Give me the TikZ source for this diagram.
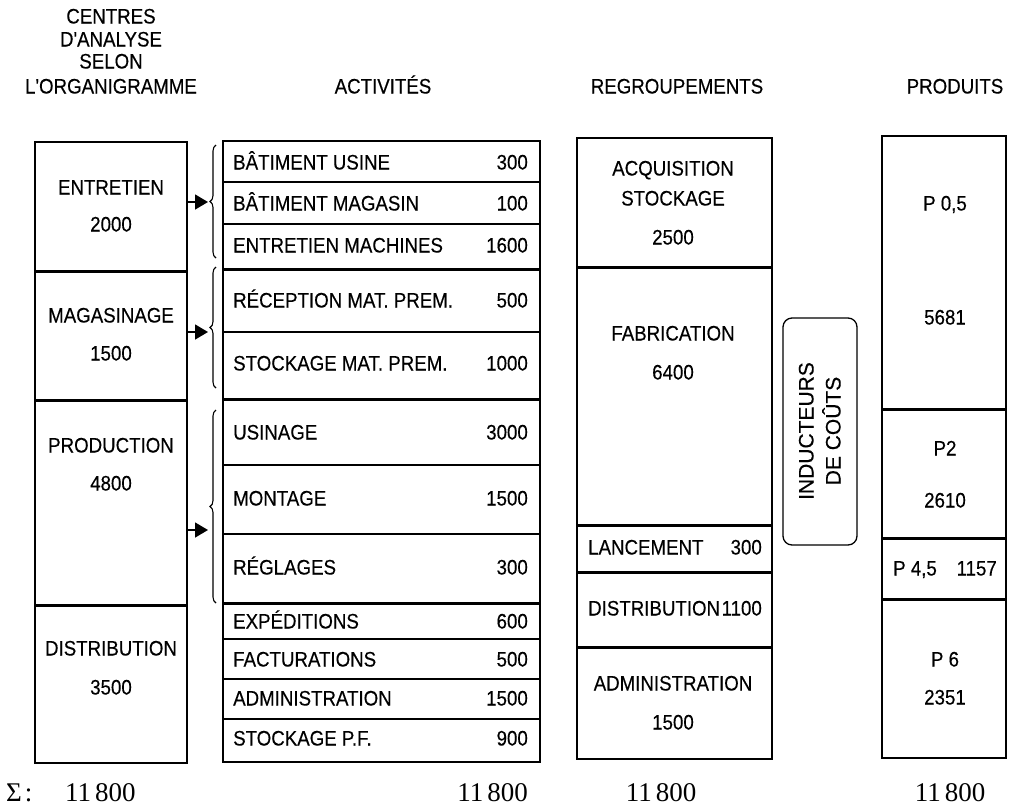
\documentclass[tikz,border=0pt]{standalone}
\usepackage{fontspec}
\usetikzlibrary{arrows.meta,decorations.pathreplacing}
\newfontfamily\hv{Liberation Sans}[FakeStretch=0.89,FakeBold=0.3]
\newfontfamily\hvw{Liberation Sans}[FakeBold=0.3]
\newfontfamily\tms{Liberation Serif}
\newcommand{\cellbox}[5]{%
  \pgfmathsetmacro\cbw{#4-#2}\pgfmathsetmacro\cbh{#5-#3}%
  \node[cell, minimum width=\cbw pt, minimum height=\cbh pt] (#1) at ({(#2+#4)/2},{(#3+#5)/2}) {};}
\begin{document}
\begin{tikzpicture}[x=1pt,y=-1pt,
  cell/.style={draw, line width=1.3pt, inner sep=0pt},
  t/.style={font=\hv\fontsize{21}{25}\selectfont, inner sep=0pt, text height=15pt, text depth=0pt},
  tw/.style={font=\hvw\fontsize{21}{25}\selectfont, inner sep=0pt, text height=15pt, text depth=0pt},
  sig/.style={font=\tms\fontsize{27}{30}\selectfont, inner sep=0pt, anchor=base},
  thickdiv/.style={line width=2.3pt},
  arr/.style={line width=1.5pt, -{Triangle[length=13pt,width=15pt]}},
  brc/.style={line width=1.1pt, decorate, decoration={brace, amplitude=6pt}}]
\useasboundingbox (0,0) rectangle (1009,809);

% headers
\node[t] (h1) at (111,16) {CENTRES};
\node[t] (h2) at (111,39) {D'ANALYSE};
\node[t] (h3) at (111,61) {SELON};
\node[t] (h4) at (111,86) {L'ORGANIGRAMME};
\node[t] (h5) at (383,86) {ACTIVITÉS};
\node[t] (h6) at (677,86) {REGROUPEMENTS};
\node[t] (h7) at (955,86) {PRODUITS};

% left column
\cellbox{ent}{35}{142}{187}{271}
\cellbox{mag}{35}{271}{187}{400}
\cellbox{pro}{35}{400}{187}{605}
\cellbox{dis}{35}{605}{187}{763}
\draw[thickdiv] (ent.south west) -- (ent.south east);
\draw[thickdiv] (mag.south west) -- (mag.south east);
\draw[thickdiv] (pro.south west) -- (pro.south east);
\node[t] (ent1) at (111,187) {ENTRETIEN};
\node[t] (ent2) at (111,224) {2000};
\node[t] (mag1) at (111,315) {MAGASINAGE};
\node[t] (mag2) at (111,353) {1500};
\node[t] (pro1) at (111,445) {PRODUCTION};
\node[t] (pro2) at (111,483) {4800};
\node[t] (dis1) at (111,648) {DISTRIBUTION};
\node[t] (dis2) at (111,687) {3500};

% activities
\cellbox{a1}{223}{141}{540}{182}
\cellbox{a2}{223}{182}{540}{224}
\cellbox{a3}{223}{224}{540}{269}
\cellbox{a4}{223}{269}{540}{332}
\cellbox{a5}{223}{332}{540}{399}
\cellbox{a6}{223}{399}{540}{465}
\cellbox{a7}{223}{465}{540}{534}
\cellbox{a8}{223}{534}{540}{603}
\cellbox{a9}{223}{603}{540}{639}
\cellbox{a10}{223}{639}{540}{679}
\cellbox{a11}{223}{679}{540}{719}
\cellbox{a12}{223}{719}{540}{762}
\draw[thickdiv] (a3.south west) -- (a3.south east);
\draw[thickdiv] (a5.south west) -- (a5.south east);
\draw[thickdiv] (a8.south west) -- (a8.south east);
\foreach \n/\y/\lab/\val in {a1/162/BÂTIMENT USINE/300, a2/203/BÂTIMENT MAGASIN/100,
  a3/245/ENTRETIEN MACHINES/1600, a4/300/RÉCEPTION MAT. PREM./500,
  a5/363/STOCKAGE MAT. PREM./1000, a6/432/USINAGE/3000, a7/498/MONTAGE/1500,
  a8/567/RÉGLAGES/300, a9/621/EXPÉDITIONS/600, a10/659/FACTURATIONS/500,
  a11/698/ADMINISTRATION/1500, a12/738/STOCKAGE P.F./900}{
  \node[t, anchor=west] (\n l) at (233,\y) {\lab};
  \node[t, anchor=east] (\n v) at (528,\y) {\val};
}

% braces and arrows
\coordinate (b1t) at (216,145); \coordinate (b1b) at (216,258);
\coordinate (b2t) at (216,267); \coordinate (b2b) at (216,388);
\coordinate (b3t) at (216,410); \coordinate (b3b) at (216,603);
\draw[brc] (b1b) -- (b1t);
\draw[brc] (b2b) -- (b2t);
\draw[brc] (b3b) -- (b3t);
\coordinate (e1) at (208,202);
\coordinate (e2) at (208,332);
\coordinate (e3) at (208,530);
\draw[arr] (ent.east |- e1) -- (e1);
\draw[arr] (mag.east |- e2) -- (e2);
\draw[arr] (pro.east |- e3) -- (e3);

% regroupements
\cellbox{r1}{577}{138}{772}{267}
\cellbox{r2}{577}{267}{772}{525}
\cellbox{r3}{577}{525}{772}{572}
\cellbox{r4}{577}{572}{772}{647}
\cellbox{r5}{577}{647}{772}{759}
\draw[thickdiv] (r1.south west) -- (r1.south east);
\draw[line width=1.8pt] (r2.south west) -- (r2.south east);
\draw[line width=1.8pt] (r3.south west) -- (r3.south east);
\draw[line width=1.8pt] (r4.south west) -- (r4.south east);
\node[t] (r1a) at (673,168) {ACQUISITION};
\node[t] (r1b) at (673,198) {STOCKAGE};
\node[t] (r1c) at (673,237) {2500};
\node[t] (r2a) at (673,333) {FABRICATION};
\node[t] (r2b) at (673,372) {6400};
\node[t, anchor=west] (r3a) at (588,547) {LANCEMENT};
\node[t, anchor=east] (r3b) at (762,547) {300};
\node[t, anchor=west] (r4a) at (588,608) {DISTRIBUTION};
\node[t, anchor=east] (r4b) at (762,608) {1100};
\node[t] (r5a) at (673,683) {ADMINISTRATION};
\node[t] (r5b) at (673,722) {1500};

% inducteurs
\node[draw, line width=1.3pt, rounded corners=9pt, minimum width=74pt, minimum height=227pt, inner sep=0pt] (ind) at (820,431.5) {};
\node[tw, rotate=90] (ind1) at (806,431) {INDUCTEURS};
\node[tw, rotate=90] (ind2) at (833,431) {DE COÛTS};

% produits
\cellbox{p1}{882}{136}{1006}{409}
\cellbox{p2}{882}{409}{1006}{538}
\cellbox{p3}{882}{538}{1006}{599}
\cellbox{p4}{882}{599}{1006}{758}
\draw[thickdiv] (p1.south west) -- (p1.south east);
\draw[thickdiv] (p2.south west) -- (p2.south east);
\draw[thickdiv] (p3.south west) -- (p3.south east);
\node[t] (p1a) at (945,203) {P 0,5};
\node[t] (p1b) at (945,317) {5681};
\node[t] (p2a) at (945,448) {P2};
\node[t] (p2b) at (945,500) {2610};
\node[t, anchor=west] (p3a) at (893,568) {P 4,5};
\node[t, anchor=east] (p3b) at (997,568) {1157};
\node[t] (p4a) at (945,659) {P 6};
\node[t] (p4b) at (945,697) {2351};

% sums
\node[sig, anchor=base west] (s0) at (6,801) {Σ\kern3pt:};
\node[sig, anchor=base west] (s1) at (65,801) {11\kern4pt800};
\node[sig, anchor=base east] (s2) at (528,801) {11\kern4pt800};
\node[sig] (s3) at (661,801) {11\kern4pt800};
\node[sig] (s4) at (950,801) {11\kern4pt800};
\end{tikzpicture}
\end{document}
